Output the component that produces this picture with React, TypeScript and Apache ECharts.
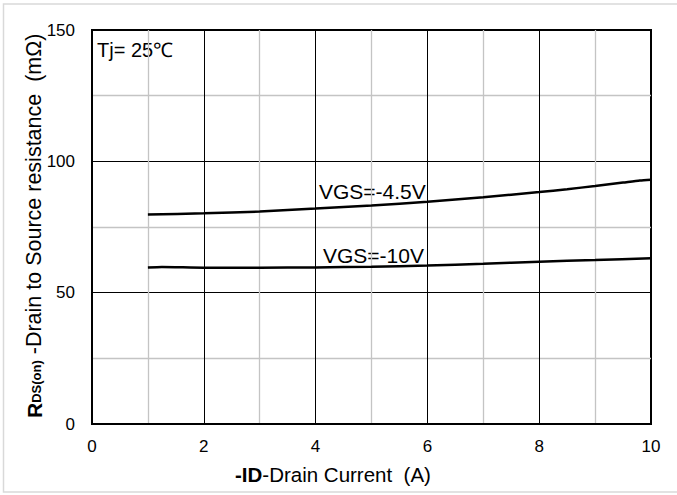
import React, { useEffect, useRef } from "react";
import * as echarts from "echarts";

const currentA = [1, 2, 3, 4, 5, 6, 7, 8, 8.5, 9, 9.5, 9.8, 10];
const rds45 = [79.8, 80.2, 80.9, 82.0, 83.2, 84.6, 86.3, 88.3, 89.4, 90.6, 91.9, 92.7, 93.0];
const currentB = [1, 1.25, 2, 3, 4, 5, 6, 7, 8, 9, 10];
const rds10 = [59.6, 59.8, 59.5, 59.5, 59.6, 59.9, 60.3, 61.0, 61.8, 62.4, 63.1];
const xTicks = { min: 0, max: 10, interval: 2 };
const yTicks = { min: 0, max: 150, interval: 50 };

const FONT = "Liberation Sans, Arial, sans-serif";

export default function App() {
  const ref = useRef<HTMLDivElement>(null);
  useEffect(() => {
    if (!ref.current) return;
    const chart = echarts.init(ref.current, null, { renderer: "svg" });
    const gridLeft = 92, gridTop = 30, gridRight = 26, gridBottom = 71;
    chart.setOption({
      animation: false,
      backgroundColor: "#fff",
      grid: {
        left: gridLeft, top: gridTop, right: gridRight, bottom: gridBottom,
        show: true, borderColor: "#000", borderWidth: 2, backgroundColor: "transparent",
      },
      xAxis: {
        type: "value", min: xTicks.min, max: xTicks.max, interval: xTicks.interval,
        axisLine: { show: true, lineStyle: { color: "#000", width: 2 } },
        axisTick: { show: false },
        axisLabel: { color: "#000", fontSize: 17, fontFamily: FONT, margin: 14 },
        splitLine: { show: true, lineStyle: { color: "#000", width: 1 } },
        minorTick: { show: false, splitNumber: 2 },
        minorSplitLine: { show: true, lineStyle: { color: "#c4c4c4", width: 1.3 } },
      },
      yAxis: {
        type: "value", min: yTicks.min, max: yTicks.max, interval: yTicks.interval,
        axisLine: { show: true, lineStyle: { color: "#000", width: 2 } },
        axisTick: { show: false },
        axisLabel: { color: "#000", fontSize: 17, fontFamily: FONT, margin: 17 },
        splitLine: { show: true, lineStyle: { color: "#000", width: 1 } },
        minorTick: { show: false, splitNumber: 2 },
        minorSplitLine: { show: true, lineStyle: { color: "#c4c4c4", width: 1.3 } },
      },
      series: [
        {
          type: "line", name: "VGS=-4.5V", smooth: 0.2, symbol: "none",
          lineStyle: { color: "#000", width: 2.5 },
          data: currentA.map((x, i) => [x, rds45[i]]),
        },
        {
          type: "line", name: "VGS=-10V", smooth: 0.2, symbol: "none",
          lineStyle: { color: "#000", width: 2.5 },
          data: currentB.map((x, i) => [x, rds10[i]]),
        },
      ],
      graphic: [
        {
          type: "rect", silent: true, z: -10,
          shape: { x: 3.5, y: 4, width: 690, height: 488 },
          style: { fill: "none", stroke: "#d9d9d9", lineWidth: 1.5 },
        },
        {
          type: "text", x: 97, y: 50,
          style: { text: "Tj= 25℃", font: `20px ${FONT}`, fill: "#000", verticalAlign: "middle", align: "left" },
        },
        {
          type: "text", x: 319, y: 191,
          style: { text: "VGS=-4.5V", font: `21px ${FONT}`, fill: "#000", verticalAlign: "middle", align: "left" },
        },
        {
          type: "text", x: 323, y: 255,
          style: { text: "VGS=-10V", font: `21px ${FONT}`, fill: "#000", verticalAlign: "middle", align: "left" },
        },
        {
          type: "text", x: 235, y: 474,
          style: {
            text: "{b|-ID}{n|-Drain Current  (A)}",
            verticalAlign: "middle", align: "left",
            rich: {
              b: { fontFamily: FONT, fontSize: 20.5, fontWeight: "bold", fill: "#000", color: "#000" },
              n: { fontFamily: FONT, fontSize: 20.5, fill: "#000", color: "#000" },
            },
          },
        },
        {
          type: "text", x: 33, y: 418, rotation: Math.PI / 2,
          style: {
            text: "{b|R}{s|DS(on)}{n| -Drain to Source resistance  (mΩ)}",
            verticalAlign: "middle", align: "left",
            rich: {
              b: { fontFamily: FONT, fontSize: 21, fontWeight: "bold", fill: "#000", color: "#000", lineHeight: 24, verticalAlign: "bottom" },
              s: { fontFamily: FONT, fontSize: 13, fontWeight: "bold", fill: "#000", color: "#000", lineHeight: 24, verticalAlign: "bottom", padding: [0, 0, 2, 0] },
              n: { fontFamily: FONT, fontSize: 21.5, fill: "#000", color: "#000", lineHeight: 24, verticalAlign: "bottom" },
            },
          },
        },
      ],
    });
    return () => chart.dispose();
  }, []);
  return <div ref={ref} style={{ width: 677, height: 495, position: "absolute", left: 0, top: 0 }} />;
}
